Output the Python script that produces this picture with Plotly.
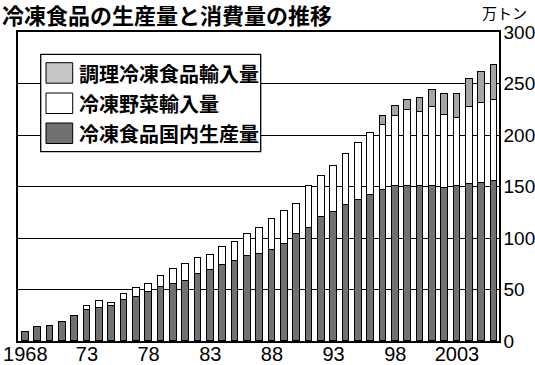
import plotly.graph_objects as go

years = list(range(1968, 2007))

# 冷凍食品国内生産量 (万トン)
domestic = [8.4, 13.3, 14.6, 18.8, 24.4, 30.5, 31.8, 34.1, 39.6, 42.9,
            47.1, 52.3, 55.5, 57.8, 64.9, 68.5, 73.4, 77.3, 82.1, 84.7,
            88.2, 94.4, 103.8, 109.6, 120.3, 125.5, 132.0, 136.8, 141.3, 146.8,
            150.5, 150.5, 150.5, 150.5, 148.8, 150.5, 152.8, 153.6, 155.0]

# 冷凍野菜輸入量 (万トン)
veg_import = [None, None, None, None, None, 3.6, 6.8, 3.2, 6.2, 8.4,
              8.4, 11.0, 14.0, 16.9, 15.6, 15.3, 18.2, 18.5, 22.1, 24.6,
              30.2, 31.4, 29.1, 40.9, 40.2, 44.3, 50.0, 55.2, 60.7, 63.2,
              67.8, 73.3, 72.3, 76.7, 70.2, 65.7, 74.4, 77.4, 79.4]

# 調理冷凍食品輸入量 (万トン)
prepared_import = [None] * 29 + [8.6, 10.2, 10.2, 13.4, 16.8, 20.8, 23.6, 27.1, 30.5, 33.4]

tick_years = [1968, 1973, 1978, 1983, 1988, 1993, 1998, 2003]
tick_text = ["1968", "73", "78", "83", "88", "93", "98", "2003"]
y_ticks = [0, 50, 100, 150, 200, 250, 300]

series_names = ["冷凍食品国内生産量", "冷凍野菜輸入量", "調理冷凍食品輸入量"]
series_colors = ["#717171", "#ffffff", "#a6a6a6"]
legend_colors = ["#717171", "#ffffff", "#c6c6c6"]

W, H = 535, 365
L, R, T, B = 18, 36, 32, 24
PW, PH = W - L - R, H - T - B

def px_x(x):
    return (x - L) / PW

def px_y(y):
    return (H - B - y) / PH

fig = go.Figure()
for name, vals, col in zip(series_names, [domestic, veg_import, prepared_import], series_colors):
    fig.add_trace(go.Bar(
        x=years, y=vals, name=name, width=0.55,
        marker=dict(color=col, line=dict(color="#000000", width=1)),
        showlegend=False,
    ))

font_jp = "Noto Sans CJK JP"
num_font = dict(family="Liberation Sans, Arial, sans-serif", size=20, color="#000")
y_num_font = dict(family="Liberation Sans, Arial, sans-serif", size=19, color="#000")

shapes = []
annotations = []

# custom legend box
shapes.append(dict(type="rect", xref="paper", yref="paper",
                   x0=px_x(40.7), x1=px_x(260.7), y0=px_y(151.7), y1=px_y(54.3),
                   fillcolor="#ffffff", line=dict(color="#000", width=1.3), layer="above"))
legend_order = [2, 1, 0]
row_tops = [62.7, 93.0, 123.0]
for row, idx in enumerate(legend_order):
    top = row_tops[row]
    shapes.append(dict(type="rect", xref="paper", yref="paper",
                       x0=px_x(46), x1=px_x(72.7), y0=px_y(top + 20.5), y1=px_y(top),
                       fillcolor=legend_colors[idx], line=dict(color="#000", width=1),
                       layer="above"))
    annotations.append(dict(xref="paper", yref="paper", x=px_x(77), y=px_y(top + 10.5),
                            xanchor="left", yanchor="middle", showarrow=False,
                            text=series_names[idx],
                            font=dict(family=font_jp, size=20, color="#000", weight="bold")))

annotations.append(dict(xref="paper", yref="paper", x=px_x(504.5), y=px_y(12.5),
                        xanchor="center", yanchor="middle", showarrow=False,
                        text="万トン", font=dict(family=font_jp, size=15, color="#000")))

fig.update_layout(
    width=W, height=H, autosize=False,
    margin=dict(l=L, r=R, t=T, b=B, pad=0, autoexpand=False),
    paper_bgcolor="#ffffff", plot_bgcolor="#ffffff",
    barmode="stack", bargap=0,
    title=dict(text="冷凍食品の生産量と消費量の推移", xref="container", yref="container",
               x=2 / W, xanchor="left", y=1 - 16.5 / H, yanchor="middle", automargin=False,
               font=dict(family=font_jp, size=22, color="#000", weight="bold")),
    xaxis=dict(range=[1967.41, 2006.41], tickvals=tick_years, ticktext=tick_text,
               tickfont=num_font, showgrid=False, zeroline=False, automargin=False,
               showline=True, mirror=True, linecolor="#000", linewidth=1.5,
               ticks="", ticklabelstandoff=-6),
    yaxis=dict(range=[0, 300], side="right", tickvals=y_ticks, tickfont=y_num_font,
               showgrid=True, gridcolor="#000", gridwidth=1.3, automargin=False,
               zeroline=False, showline=True, mirror=True, linecolor="#000",
               linewidth=1.5, ticks="", ticklabelstandoff=-1),
    shapes=shapes, annotations=annotations,
)

fig.write_html("out.html", config={"displayModeBar": False},
               post_script="document.body.style.margin='0';document.body.style.overflow='hidden';")
